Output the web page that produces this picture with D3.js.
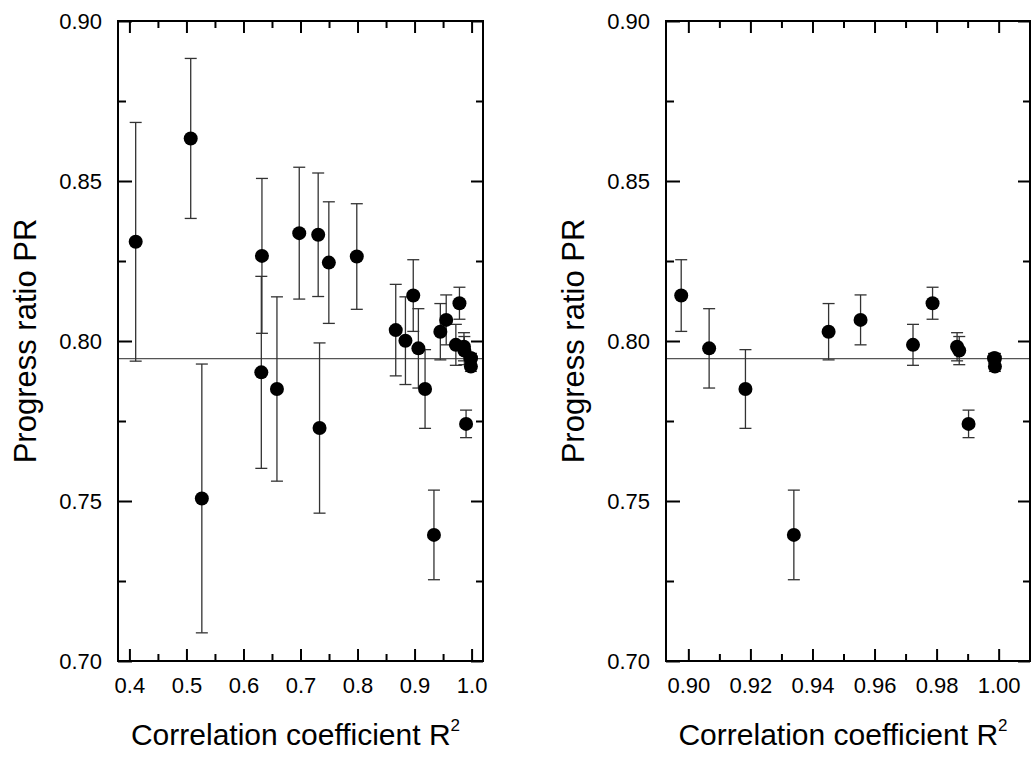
<!DOCTYPE html>
<html>
<head>
<meta charset="utf-8">
<script src="https://cdn.jsdelivr.net/npm/d3@7"></script>
<style>
  body { margin: 0; background: #fff; }
  text { font-family: "Liberation Sans", Arial, sans-serif; fill: #000; }
</style>
</head>
<body>
<div id="chart"></div>
<script>
// R^2 of each fit, its progress ratio and the error on PR
var r2Values = [0.411, 0.5075, 0.527, 0.6313, 0.6324, 0.6587, 0.6978, 0.731, 0.7334,
                0.7497, 0.7987, 0.867, 0.884, 0.8977, 0.9067, 0.9184, 0.934, 0.9452,
                0.9555, 0.9724, 0.9787, 0.9866, 0.9873, 0.9903, 0.9985, 0.9988, 0.9988];
var prValues = [0.831, 0.8633, 0.7508, 0.7902, 0.8266, 0.785, 0.8337, 0.8332, 0.7728,
                0.8245, 0.8264, 0.8034, 0.8001, 0.8142, 0.7977, 0.785, 0.7394, 0.8029,
                0.8066, 0.7988, 0.8118, 0.7982, 0.797, 0.7741, 0.7946, 0.7946, 0.792];
var prErrors = [0.0373, 0.025, 0.042, 0.030, 0.0242, 0.0288, 0.0206, 0.0193, 0.0266,
                0.019, 0.0165, 0.0143, 0.0137, 0.0112, 0.0124, 0.0123, 0.014, 0.0088,
                0.0078, 0.0064, 0.005, 0.0044, 0.0044, 0.0043, 0.0015, 0.0015, 0.0015];
var meanPR = 0.7945;

var yTicks = [0.70, 0.75, 0.80, 0.85, 0.90];
var yMinor = [0.725, 0.775, 0.825, 0.875];
var leftXTicks = [0.4, 0.5, 0.6, 0.7, 0.8, 0.9, 1.0];
var leftXMinor = [0.45, 0.55, 0.65, 0.75, 0.85, 0.95];
var rightXTicks = [0.90, 0.92, 0.94, 0.96, 0.98, 1.00];
var rightXMinor = [0.91, 0.93, 0.95, 0.97, 0.99];

var width = 1033, height = 758;
var svg = d3.select('#chart').append('svg')
  .attr('width', width)
  .attr('height', height);

var points = r2Values.map(function(d, i) {
  return { x: d, y: prValues[i], e: prErrors[i] };
});

function drawPanel(opts) {
  var x = d3.scaleLinear().domain(opts.xDomain).range([opts.left, opts.right]);
  var y = d3.scaleLinear().domain([0.70, 0.90]).range([661, 21]);
  var g = svg.append('g');

  function axis(gen, ticks, size, fmt, pad, transform) {
    var a = g.append('g')
      .attr('transform', transform)
      .call(gen.tickValues(ticks).tickSize(-size).tickPadding(pad).tickFormat(fmt));
    a.select('.domain').remove();
    a.selectAll('line').attr('stroke', '#000').attr('stroke-width', 2);
    a.selectAll('text').style('font-size', '22px').attr('fill', '#000');
    return a;
  }
  var none = function() { return ''; };

  axis(d3.axisBottom(x), opts.xTicks, 12, opts.xFormat, 16, 'translate(0,661)');
  axis(d3.axisBottom(x), opts.xMinor, 7, none, 0, 'translate(0,661)');
  axis(d3.axisTop(x), opts.xTicks, 12, none, 0, 'translate(0,21)');
  axis(d3.axisTop(x), opts.xMinor, 7, none, 0, 'translate(0,21)');
  axis(d3.axisLeft(y), yTicks, 14, d3.format('.2f'), 16, 'translate(' + opts.left + ',0)');
  axis(d3.axisLeft(y), yMinor, 8, none, 0, 'translate(' + opts.left + ',0)');
  axis(d3.axisRight(y), yTicks, 12, none, 0, 'translate(' + opts.right + ',0)');
  axis(d3.axisRight(y), yMinor, 7, none, 0, 'translate(' + opts.right + ',0)');

  // mean progress ratio
  g.append('line')
    .attr('x1', opts.left).attr('x2', opts.right)
    .attr('y1', y(meanPR)).attr('y2', y(meanPR))
    .attr('stroke', '#555').attr('stroke-width', 1.2);

  var data = points.filter(function(d) { return d.x >= opts.xDomain[0]; });

  var bars = g.selectAll('.err').data(data).enter().append('g')
    .attr('class', 'err')
    .attr('stroke', '#333').attr('stroke-width', 1.3);
  bars.append('line')
    .attr('x1', function(d) { return x(d.x); }).attr('x2', function(d) { return x(d.x); })
    .attr('y1', function(d) { return y(d.y + d.e); }).attr('y2', function(d) { return y(d.y - d.e); });
  bars.append('line')
    .attr('x1', function(d) { return x(d.x) - 6; }).attr('x2', function(d) { return x(d.x) + 6; })
    .attr('y1', function(d) { return y(d.y + d.e); }).attr('y2', function(d) { return y(d.y + d.e); });
  bars.append('line')
    .attr('x1', function(d) { return x(d.x) - 6; }).attr('x2', function(d) { return x(d.x) + 6; })
    .attr('y1', function(d) { return y(d.y - d.e); }).attr('y2', function(d) { return y(d.y - d.e); });

  g.selectAll('.dot').data(data).enter().append('circle')
    .attr('class', 'dot')
    .attr('cx', function(d) { return x(d.x); })
    .attr('cy', function(d) { return y(d.y); })
    .attr('r', 7)
    .attr('fill', '#000');

  g.append('rect')
    .attr('x', opts.left).attr('y', 21)
    .attr('width', opts.right - opts.left).attr('height', 640)
    .attr('fill', 'none').attr('stroke', '#000').attr('stroke-width', 2);

  var title = g.append('text')
    .attr('x', (opts.left + opts.right) / 2 - 5)
    .attr('y', 745)
    .attr('text-anchor', 'middle')
    .style('font-size', '30px');
  title.append('tspan').text('Correlation coefficient R');
  title.append('tspan').attr('dy', -14).style('font-size', '17px').text('2');

  g.append('text')
    .attr('transform', 'translate(' + opts.yTitleX + ',341) rotate(-90)')
    .attr('text-anchor', 'middle')
    .style('font-size', '31px')
    .text('Progress ratio PR');
}

drawPanel({
  left: 118, right: 483, xDomain: [0.38, 1.02],
  xTicks: leftXTicks, xMinor: leftXMinor, xFormat: d3.format('.1f'), yTitleX: 36
});
drawPanel({
  left: 666, right: 1030, xDomain: [0.8928, 1.0101],
  xTicks: rightXTicks, xMinor: rightXMinor, xFormat: d3.format('.2f'), yTitleX: 584
});
</script>
</body>
</html>
